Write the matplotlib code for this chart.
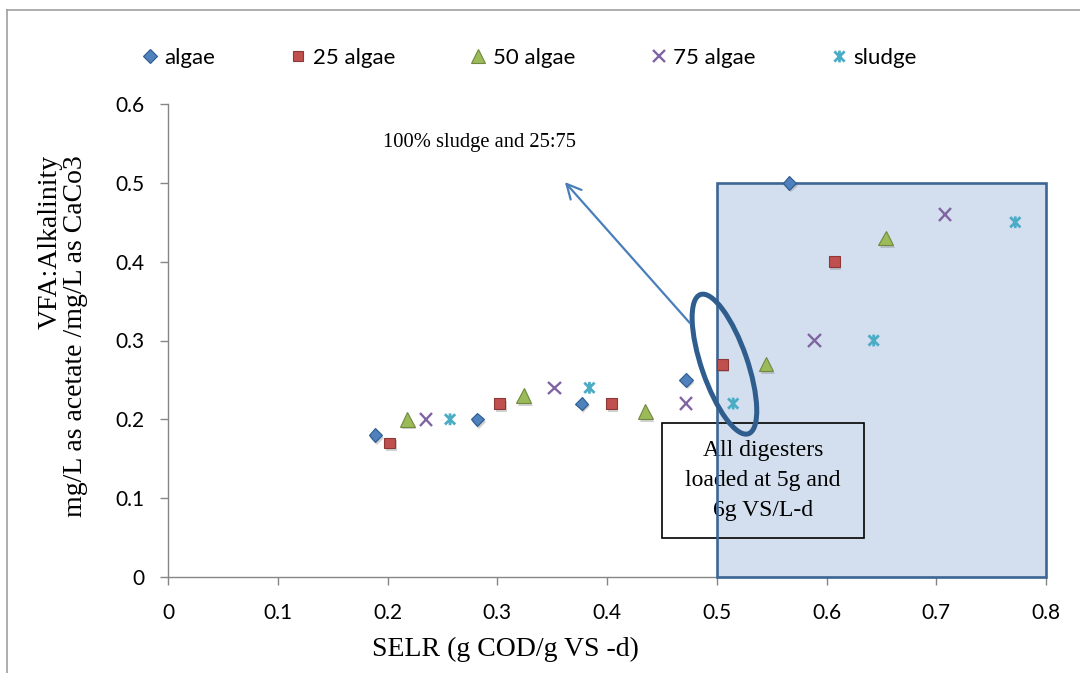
import matplotlib
matplotlib.use("Agg")
import matplotlib.pyplot as plt
import matplotlib.patheffects as pe
from matplotlib.patches import Rectangle, Ellipse
from matplotlib.path import Path
from matplotlib.lines import Line2D
from matplotlib.transforms import Affine2D, ScaledTranslation

# SELR (g COD/g VS-d) and VFA:Alkalinity ratio for each digester feed
selr_algae = [0.189, 0.282, 0.377, 0.472, 0.566]
vfa_algae = [0.18, 0.20, 0.22, 0.25, 0.50]

selr_25 = [0.202, 0.302, 0.404, 0.505, 0.607]
vfa_25 = [0.17, 0.22, 0.22, 0.27, 0.40]

selr_50 = [0.218, 0.324, 0.435, 0.545, 0.654]
vfa_50 = [0.20, 0.23, 0.21, 0.27, 0.43]

selr_75 = [0.235, 0.352, 0.472, 0.589, 0.708]
vfa_75 = [0.20, 0.24, 0.22, 0.30, 0.46]

selr_sludge = [0.257, 0.384, 0.515, 0.643, 0.772]
vfa_sludge = [0.20, 0.24, 0.22, 0.30, 0.45]

series_labels = ["algae", "25 algae", "50 algae", "75 algae", "sludge"]
x_ticks = [0, 0.1, 0.2, 0.3, 0.4, 0.5, 0.6, 0.7, 0.8]
y_ticks = [0, 0.1, 0.2, 0.3, 0.4, 0.5, 0.6]
x_tick_labels = ["0", "0.1", "0.2", "0.3", "0.4", "0.5", "0.6", "0.7", "0.8"]
y_tick_labels = ["0", "0.1", "0.2", "0.3", "0.4", "0.5", "0.6"]

SANS = ["Lato", "DejaVu Sans"]
SERIF = ["Liberation Serif", "DejaVu Serif"]

# Excel-style "star" marker: an X crossed by a vertical bar
star_marker = Path(
    [(-1, -1), (1, 1), (-1, 1), (1, -1), (0, -1.15), (0, 1.15)],
    [Path.MOVETO, Path.LINETO, Path.MOVETO, Path.LINETO, Path.MOVETO, Path.LINETO],
)

shadow = [pe.SimplePatchShadow(offset=(1.2, -2.0), shadow_rgbFace="#7f7f7f", alpha=0.35),
          pe.Normal()]

styles = [
    dict(marker="D", ms=6.8, mfc="#4F81BD", mec="#2C5A8E", mew=0.8),
    dict(marker="s", ms=7.8, mfc="#C0504D", mec="#8C3836", mew=0.8),
    dict(marker="^", ms=10.5, mfc="#9BBB59", mec="#71893F", mew=0.8),
    dict(marker="x", ms=9.0, mfc="none", mec="#8064A2", mew=1.7),
    dict(marker=star_marker, ms=8.5, mfc="none", mec="#4BACC6", mew=2.0),
]

fig = plt.figure(figsize=(10.8, 6.73), dpi=100)
ax = fig.add_axes([168 / 1080, 1 - 577 / 673, (1046 - 168) / 1080, (577 - 104) / 673])

# shaded region for the high-loading digesters
ax.add_patch(Rectangle((0.5, 0.0), 0.3, 0.5, facecolor="#D3DFEE", edgecolor="none",
                       zorder=1, clip_on=False))
ax.add_patch(Rectangle((0.5, 0.0), 0.3, 0.5, facecolor="none", edgecolor="#3C6696",
                       lw=1.9, zorder=4, clip_on=False))

xs = [selr_algae, selr_25, selr_50, selr_75, selr_sludge]
ys = [vfa_algae, vfa_25, vfa_50, vfa_75, vfa_sludge]
for x, y, st, lab in zip(xs, ys, styles, series_labels):
    ax.plot(x, y, ls="none", label=lab, zorder=5, clip_on=False,
            path_effects=shadow, **st)

# note box
ax.add_patch(Rectangle((0.450, 0.0495), 0.184, 0.146, facecolor="none",
                       edgecolor="black", lw=1.2, zorder=3))
ax.text(0.542, 0.1225, "All digesters\nloaded at 5g and\n6g VS/L-d", ha="center",
        va="center", fontsize=17, family=SERIF, linespacing=1.55, zorder=3)

# ellipse around the 0.5 SELR points and arrow to the note
ell_center = (0.507, 0.270)
ell_tr = Affine2D().scale(fig.dpi / 72.0) + ScaledTranslation(*ell_center, ax.transData)
ax.add_patch(Ellipse((0, 0), 33, 106, angle=19, facecolor="none", edgecolor="#2F5D8E",
                     lw=3.6, transform=ell_tr, zorder=6, clip_on=False))
ax.annotate("", xy=(0.3616, 0.501), xytext=(0.4754, 0.3223),
            arrowprops=dict(arrowstyle="->", color="#4A7EBB", lw=1.6,
                            mutation_scale=26, shrinkA=0, shrinkB=0), zorder=6)
ax.text(0.196, 0.551, "100% sludge and 25:75", fontsize=14.8, family=SERIF,
        ha="left", va="center", zorder=6)

ax.set_xlim(0, 0.8)
ax.set_ylim(0, 0.6)
ax.set_xticks(x_ticks)
ax.set_xticklabels(x_tick_labels)
ax.set_yticks(y_ticks)
ax.set_yticklabels(y_tick_labels)
for s in ("top", "right"):
    ax.spines[s].set_visible(False)
for s in ("left", "bottom"):
    ax.spines[s].set_color("#868686")
    ax.spines[s].set_linewidth(1.0)
ax.tick_params(axis="both", direction="out", length=6, width=1.0, color="#868686",
               labelsize=15)
ax.tick_params(axis="y", pad=11)
ax.tick_params(axis="x", pad=13)
for lbl in ax.get_xticklabels() + ax.get_yticklabels():
    lbl.set_family(SANS)

fig.text(505 / 1080, 1 - 649 / 673, "SELR (g COD/g VS -d)", fontsize=20,
         family=SERIF, ha="center", va="center")
fig.text(63 / 1080, 1 - 155 / 673, "VFA:Alkalinity\nmg/L as acetate /mg/L as CaCo3",
         fontsize=20, family=SERIF, rotation=90, ha="center", va="top",
         multialignment="right", linespacing=1.0)

# legend row
handles = [Line2D([], [], ls="none", **st) for st in styles]
leg = fig.legend(handles, series_labels, loc="center left", ncol=5,
                 bbox_to_anchor=(143 / 1080, 1 - 58 / 673), frameon=False,
                 borderpad=0, borderaxespad=0, handlelength=0.6, handletextpad=0.35,
                 columnspacing=3.45, prop=dict(family=SANS, size=16))

# outer chart frame
fig.add_artist(Line2D([7 / 1080, 1.0], [1 - 10 / 673, 1 - 10 / 673],
                      transform=fig.transFigure, color="#A0A0A0", lw=1.2))
fig.add_artist(Line2D([7 / 1080, 7 / 1080], [0.0, 1 - 10 / 673],
                      transform=fig.transFigure, color="#A0A0A0", lw=1.2))

fig.savefig("out.png", dpi=100, facecolor="white")
